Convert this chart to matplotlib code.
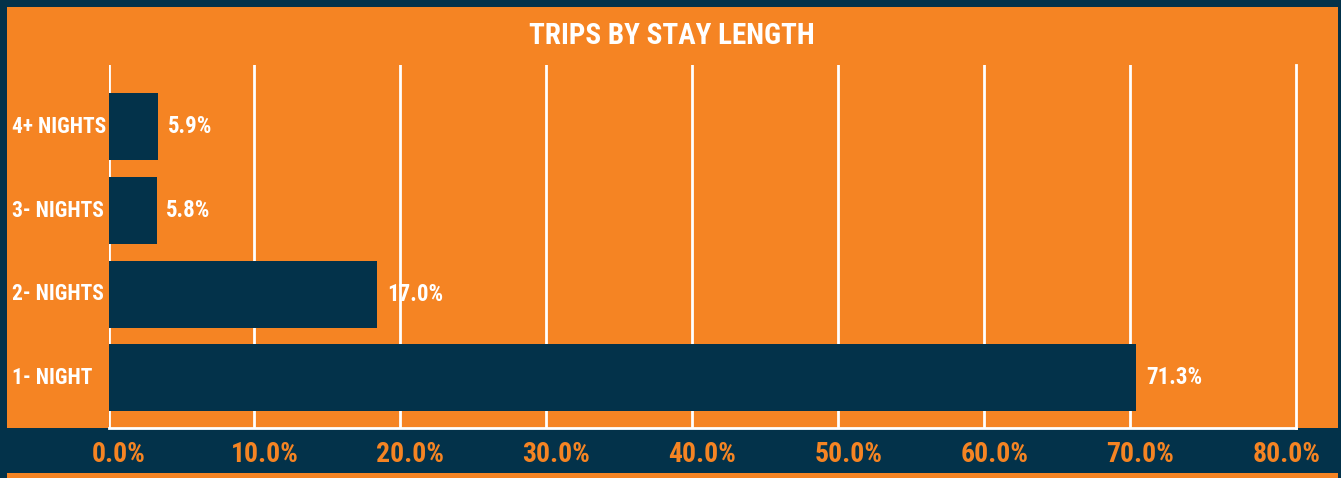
import matplotlib
matplotlib.use("Agg")
import matplotlib.pyplot as plt
import matplotlib.transforms as mtransforms
from matplotlib.patches import Rectangle
from matplotlib import font_manager

# data
categories = ["1- NIGHT", "2- NIGHTS", "3- NIGHTS", "4+ NIGHTS"]
bar_lengths = [70.4, 18.4, 3.3, 3.4]          # drawn bar lengths (%)
value_labels = ["71.3%", "17.0%", "5.8%", "5.9%"]  # printed labels
x_ticks = [0, 10, 20, 30, 40, 50, 60, 70, 80]
x_tick_labels = ["0.0%", "10.0%", "20.0%", "30.0%", "40.0%",
                 "50.0%", "60.0%", "70.0%", "80.0%"]
title = "TRIPS BY STAY LENGTH"

ORANGE = "#F58423"
NAVY = "#03324A"
WHITE = "#FFFFFF"

# pick a narrow face if one is there
installed = {f.name for f in font_manager.fontManager.ttflist}
family = "DejaVu Sans"
for name in ["Liberation Sans Narrow", "Roboto Condensed", "Open Sans Condensed"]:
    if name in installed:
        family = name
        break
plt.rcParams["font.family"] = [family, "DejaVu Sans"]
plt.rcParams["font.weight"] = "bold"
plt.rcParams["font.stretch"] = "condensed"

W, H = 1341, 478
fig = plt.figure(figsize=(W / 100, H / 100), dpi=100, facecolor=NAVY)

# orange panel and bottom strip
fig.patches.append(Rectangle((7 / W, (H - 428) / H), 1331 / W, 421 / H,
                             transform=fig.transFigure, facecolor=ORANGE,
                             edgecolor="none", zorder=-5))
fig.patches.append(Rectangle((7 / W, 0), 1331 / W, 5 / H,
                             transform=fig.transFigure, facecolor=ORANGE,
                             edgecolor="none", zorder=-5))

ax = fig.add_axes([108.5 / W, (H - 428) / H, (1296 - 108.5) / W, 363 / H])
ax.patch.set_alpha(0)

ypos = list(range(len(categories)))
ax.barh(ypos, bar_lengths, height=0.8, color=NAVY, zorder=3)

ax.set_xlim(0, 81.35)
ax.set_ylim(-0.6, 3.74)

for t in x_ticks[:-1]:
    ax.axvline(t, color=WHITE, lw=2, zorder=1)

for side in ["top", "left"]:
    ax.spines[side].set_visible(False)
for side in ["bottom", "right"]:
    ax.spines[side].set_color(WHITE)
    ax.spines[side].set_linewidth(2)
    ax.spines[side].set_zorder(4)

ax.set_xticks(x_ticks)
ax.set_xticklabels(x_tick_labels, color=ORANGE, fontsize=20, fontweight="bold")
ax.tick_params(axis="x", length=0, pad=9)
shift = mtransforms.ScaledTranslation(10 / 100, 0, fig.dpi_scale_trans)
for lbl in ax.get_xticklabels():
    lbl.set_transform(lbl.get_transform() + shift)
ax.set_yticks([])

# category labels, left aligned near the figure edge
trans = mtransforms.blended_transform_factory(fig.transFigure, ax.transData)
for y, cat in zip(ypos, categories):
    ax.text(12 / W, y, cat, transform=trans, ha="left", va="center",
            color=WHITE, fontsize=15.5, fontweight="bold")

for y, v, lab in zip(ypos, bar_lengths, value_labels):
    ax.annotate(lab, (v, y), xytext=(7, 0), textcoords="offset points",
                ha="left", va="center", color=WHITE, fontsize=16.5,
                fontweight="bold")

fig.text(672 / W, 1 - 36 / H, title, ha="center", va="center",
         color=WHITE, fontsize=21, fontweight="bold")

fig.savefig("out.png", dpi=100, facecolor=NAVY)
